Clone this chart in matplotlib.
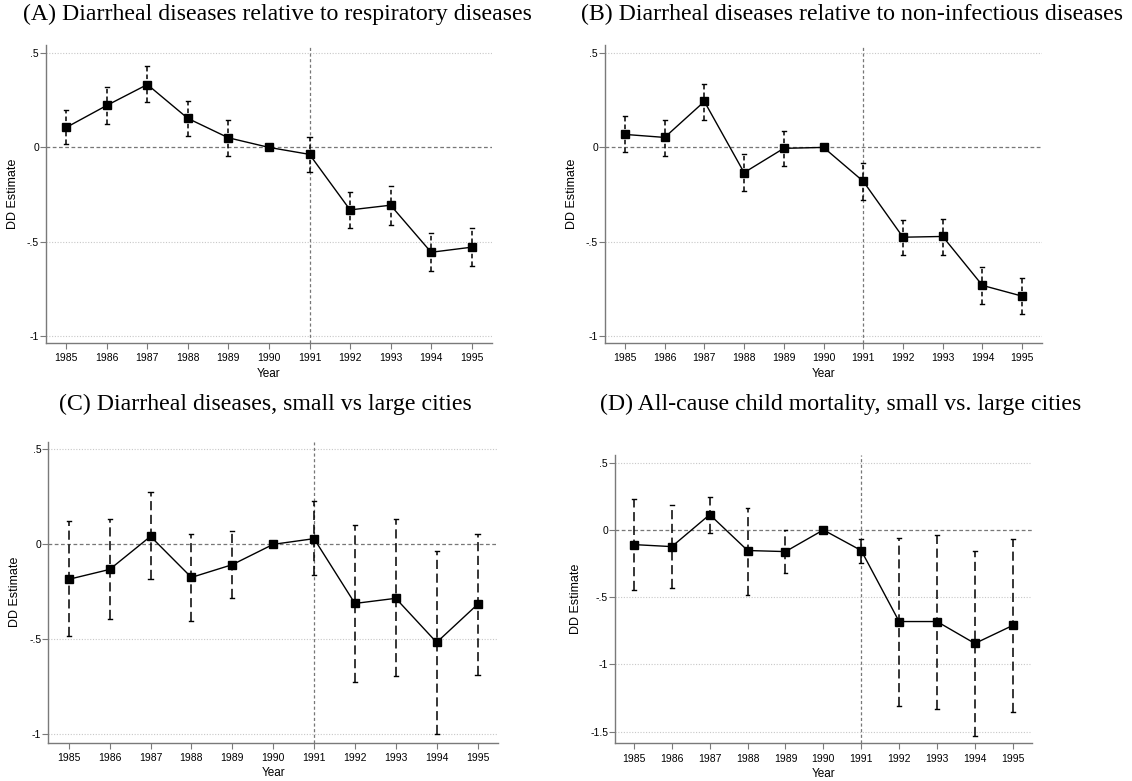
import matplotlib
matplotlib.use("Agg")
import matplotlib.pyplot as plt
import numpy as np

years = [1985, 1986, 1987, 1988, 1989, 1990, 1991, 1992, 1993, 1994, 1995]

# Panel A
a_est = [0.106, 0.223, 0.334, 0.154, 0.051, 0.0, -0.037, -0.332, -0.307, -0.557, -0.530]
a_hi  = [0.198, 0.322, 0.431, 0.249, 0.145, 0.0, 0.057, -0.237, -0.207, -0.456, -0.429]
a_lo  = [0.016, 0.124, 0.239, 0.060, -0.044, 0.0, -0.133, -0.429, -0.410, -0.655, -0.629]
# Panel B
b_est = [0.069, 0.053, 0.244, -0.134, -0.005, 0.0, -0.180, -0.477, -0.473, -0.733, -0.790]
b_hi  = [0.168, 0.147, 0.339, -0.034, 0.085, 0.0, -0.081, -0.383, -0.378, -0.633, -0.693]
b_lo  = [-0.027, -0.046, 0.145, -0.231, -0.101, 0.0, -0.277, -0.571, -0.569, -0.834, -0.885]
# Panel C
c_est = [-0.184, -0.132, 0.042, -0.174, -0.107, 0.0, 0.030, -0.311, -0.284, -0.516, -0.316]
c_hi  = [0.121, 0.135, 0.274, 0.054, 0.068, 0.0, 0.228, 0.102, 0.132, -0.035, 0.053]
c_lo  = [-0.484, -0.395, -0.184, -0.402, -0.284, 0.0, -0.163, -0.723, -0.695, -0.996, -0.689]
# Panel D
d_est = [-0.109, -0.124, 0.114, -0.153, -0.161, 0.0, -0.153, -0.681, -0.681, -0.844, -0.710]
d_hi  = [0.228, 0.188, 0.245, 0.166, -0.002, 0.0, -0.069, -0.057, -0.035, -0.156, -0.064]
d_lo  = [-0.443, -0.431, -0.022, -0.480, -0.317, 0.0, -0.243, -1.307, -1.329, -1.532, -1.356]

titles = ["(A) Diarrheal diseases relative to respiratory diseases",
          "(B) Diarrheal diseases relative to non-infectious diseases",
          "(C) Diarrheal diseases, small vs large cities",
          "(D) All-cause child mortality, small vs. large cities"]

yticks_ab = [0.5, 0, -0.5, -1]
yticklabels_ab = [".5", "0", "-.5", "-1"]
yticks_d = [0.5, 0, -0.5, -1, -1.5]
yticklabels_d = [".5", "0", "-.5", "-1", "-1.5"]

fig = plt.figure(figsize=(11.32, 7.81), dpi=100)
fig.patch.set_facecolor("white")

panels = [
    (a_est, a_lo, a_hi, [0.0406, 0.5608, 0.394, 0.3816], (-1.039, 0.544), yticks_ab, yticklabels_ab, (0, (3, 2))),
    (b_est, b_lo, b_hi, [0.5345, 0.5608, 0.386, 0.3816], (-1.039, 0.544), yticks_ab, yticklabels_ab, (0, (3, 2))),
    (c_est, c_lo, c_hi, [0.0427, 0.0490, 0.3972, 0.3854], (-1.044, 0.54), yticks_ab, yticklabels_ab, (0, (6, 3))),
    (d_est, d_lo, d_hi, [0.5433, 0.0483, 0.3681, 0.3691], (-1.586, 0.557), yticks_d, yticklabels_d, (0, (6, 3))),
]

title_pos = [(0.245, 0.981), (0.753, 0.981), (0.234, 0.482), (0.743, 0.482)]

spine_col = "#7a7a7a"
for i, (est, lo, hi, pos, ylim, yt, ytl, dash) in enumerate(panels):
    ax = fig.add_axes(pos)
    ax.set_xlim(1984.5, 1995.5)
    ax.set_ylim(*ylim)
    ax.set_yticks(yt)
    ax.set_yticklabels(ytl)
    ax.set_xticks(years)
    ax.set_xticklabels([str(y) for y in years])
    for yv in yt:
        if yv != 0:
            ax.axhline(yv, color="#c8c8c8", lw=0.8, ls=(0, (1, 1.5)), zorder=0)
    ax.axhline(0, color="#777777", lw=0.9, ls=(0, (3, 2)), zorder=1)
    ax.axvline(1991, color="#777777", lw=0.9, ls=(0, (2.5, 2)), zorder=1)
    est_a = np.array(est)
    lo_a = np.array(lo)
    hi_a = np.array(hi)
    for x, l, h in zip(years, lo_a, hi_a):
        if l == h:
            continue
        ax.plot([x, x], [l, h], color="black", lw=1.1, ls=dash, zorder=2)
        ax.plot([x - 0.05, x + 0.05], [l, l], color="black", lw=1.0, zorder=2)
        ax.plot([x - 0.05, x + 0.05], [h, h], color="black", lw=1.0, zorder=2)
    ax.plot(years, est_a, color="black", lw=1.0, marker="s", markersize=6,
            markerfacecolor="black", markeredgecolor="black", zorder=3)
    for s in ["top", "right"]:
        ax.spines[s].set_visible(False)
    for s in ["left", "bottom"]:
        ax.spines[s].set_color(spine_col)
        ax.spines[s].set_linewidth(1.0)
    ax.tick_params(axis="both", colors=spine_col, labelcolor="black", labelsize=7.5,
                   length=4, width=0.8, direction="out")
    ax.tick_params(axis="y", pad=1)
    ax.set_xlabel("Year", fontsize=8.5, labelpad=3, family="Liberation Sans")
    ax.set_ylabel("DD Estimate", fontsize=9, labelpad=6, family="Liberation Sans")
    for lab in ax.get_xticklabels() + ax.get_yticklabels():
        lab.set_family("Liberation Sans")
    fig.text(title_pos[i][0], title_pos[i][1], titles[i], ha="center", va="center",
             fontsize=17.2, family="Liberation Serif")

fig.savefig("out.png", dpi=100, facecolor="white")
